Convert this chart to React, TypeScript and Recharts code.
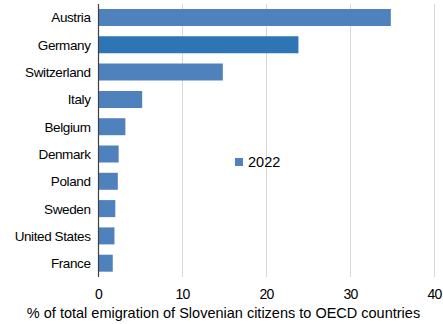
import { BarChart, Bar, XAxis, YAxis, CartesianGrid, Cell, Label } from 'recharts';

const countries = ['Austria', 'Germany', 'Switzerland', 'Italy', 'Belgium', 'Denmark', 'Poland', 'Sweden', 'United States', 'France'];
const share2022 = [34.8, 23.8, 14.8, 5.2, 3.2, 2.4, 2.3, 2.0, 1.9, 1.7];
const xTicks = [0, 10, 20, 30, 40];
const seriesName = '2022';

const highlighted = 'Germany';
const barColor = '#4f81bd';
const highlightColor = '#2e75b6';
const font = '"Liberation Sans", Arial, sans-serif';

const data = countries.map((country, i) => ({ country, value: share2022[i] }));

export default function App() {
  return (
    <div style={{ position: 'absolute', left: 0, top: 0, width: 443, height: 324, background: '#fff' }}>
      <BarChart
        width={443}
        height={324}
        data={data}
        layout="vertical"
        margin={{ top: 4, right: 8.5, bottom: 0, left: 0 }}
      >
        <CartesianGrid horizontal={false} stroke="#d9d9d9" strokeWidth={1} />
        <XAxis
          type="number"
          domain={[0, 40]}
          ticks={xTicks}
          axisLine={false}
          tickLine={false}
          tickSize={0}
          tickMargin={12}
          height={47}
          interval={0}
          tick={{ fill: '#000', fontSize: 14, fontFamily: font, letterSpacing: -0.8 }}
        >
          <Label
            content={() => (
              <text x={223.5} y={318} textAnchor="middle" fill="#000" fontSize={14.5} fontFamily={font}>
                % of total emigration of Slovenian citizens to OECD countries
              </text>
            )}
          />
        </XAxis>
        <YAxis
          type="category"
          dataKey="country"
          width={98.5}
          axisLine={{ stroke: '#404040', strokeWidth: 1.2 }}
          tickLine={false}
          tickSize={0}
          tickMargin={8}
          interval={0}
          tick={{ fill: '#000', fontSize: 13.5, fontFamily: font, letterSpacing: -0.4 }}
        />
        <Bar dataKey="value" name={seriesName} fill={barColor} barSize={17} isAnimationActive={false}>
          {data.map((d) => (
            <Cell key={d.country} fill={d.country === highlighted ? highlightColor : barColor} />
          ))}
        </Bar>
      </BarChart>
      <div
        style={{
          position: 'absolute',
          left: 235,
          top: 154,
          display: 'flex',
          alignItems: 'center',
          fontFamily: font,
          fontSize: 14.5,
          color: '#000',
        }}
      >
        <span style={{ width: 8, height: 8, background: barColor, marginRight: 5, display: 'inline-block' }} />
        {seriesName}
      </div>
    </div>
  );
}
